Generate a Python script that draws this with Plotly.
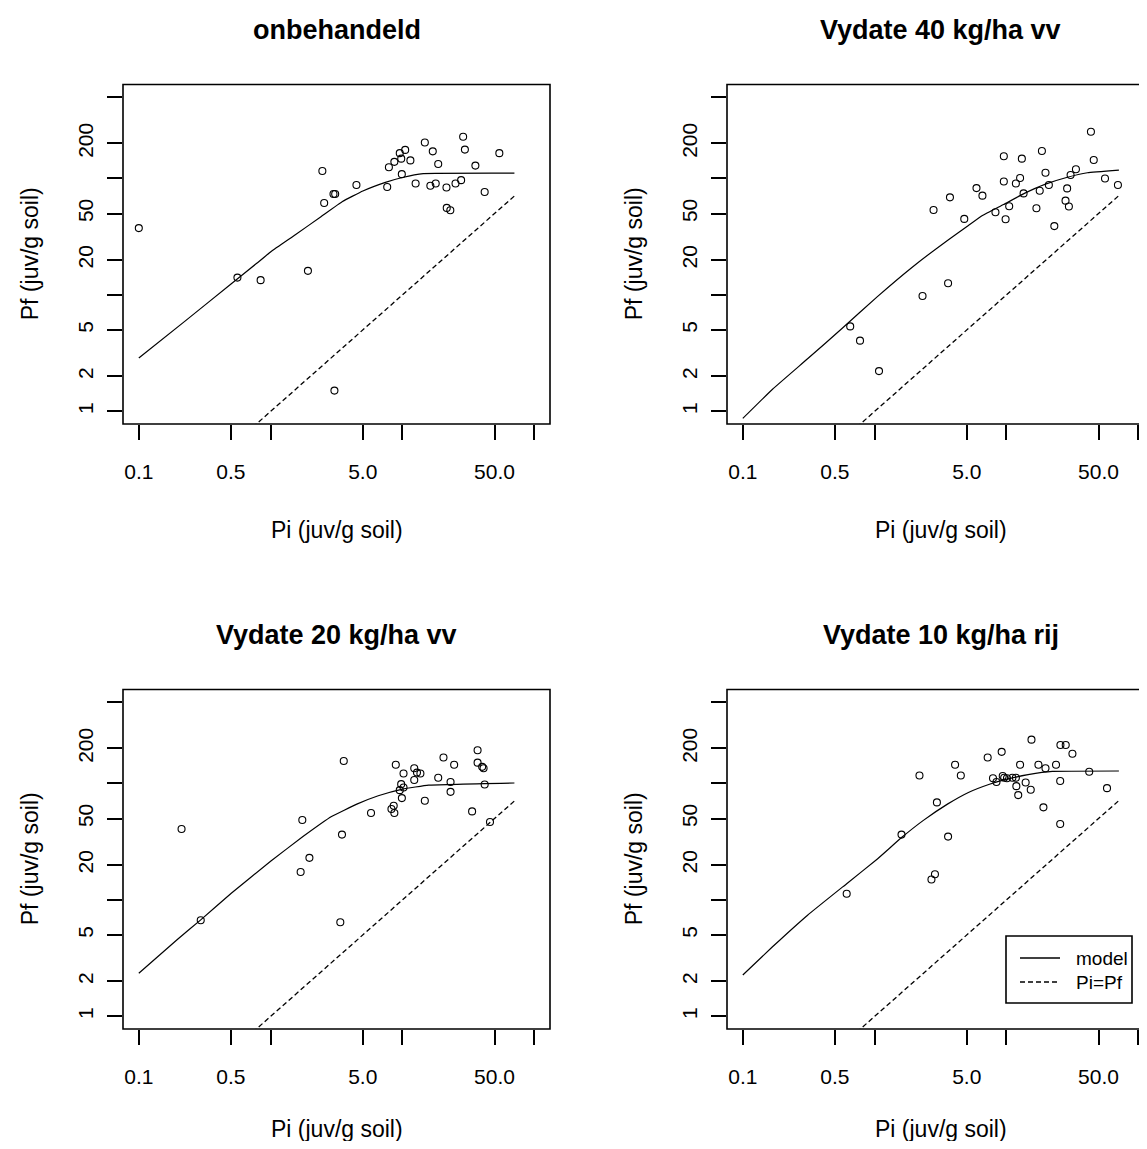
import plotly.graph_objects as go

# ---------------- data ----------------
titles = ["onbehandeld", "Vydate 40 kg/ha vv", "Vydate 20 kg/ha vv", "Vydate 10 kg/ha rij"]
x_title = "Pi (juv/g soil)"
y_title = "Pf (juv/g soil)"
x_tickvals = [0.1, 0.5, 1, 5, 10, 50, 100]
x_ticktext = ["0.1", "0.5", "", "5.0", "", "50.0", ""]
y_tickvals = [1, 2, 5, 10, 20, 50, 100, 200, 500]
y_ticktext = ["1", "2", "5", "", "20", "50", "", "200", ""]
legend_labels = ["model", "Pi=Pf"]

# panel 1: onbehandeld
obs_pi_1 = [0.1, 0.56, 0.84, 1.92, 2.47, 2.55, 3.0, 3.09, 3.05, 4.48, 7.67, 7.9, 8.69, 9.55, 9.8, 9.9,
            10.5, 11.5, 12.6, 14.8, 16.3, 17.0, 17.9, 18.7, 21.6, 21.7, 23.1, 25.3, 27.9, 28.9, 29.8,
            35.8, 42.1, 54.4]
obs_pf_1 = [37.5, 14.1, 13.4, 16.1, 116, 61.6, 73.5, 73.5, 1.51, 87.8, 84.4, 125, 139, 165, 148, 109,
            176, 143, 90.7, 204, 86.6, 171, 90.7, 133, 83.8, 55.9, 53.4, 90.7, 96.8, 228, 177,
            129, 76.5, 165]
model_pi_1 = [0.1, 0.223, 0.509, 0.78, 1.01, 1.55, 2.41, 3.51, 5.01, 7.43, 10.0, 14.4, 70.8]
model_pf_1 = [2.88, 5.93, 12.6, 18.6, 23.6, 33.0, 47.0, 63.5, 78.0, 92.5, 102, 110, 111]

# panel 2: Vydate 40 kg/ha vv
obs_pi_2 = [0.653, 0.775, 1.08, 2.31, 2.80, 3.61, 3.73, 4.79, 5.93, 6.58, 8.26, 9.56, 9.56, 9.86, 10.5,
            11.8, 12.7, 13.1, 13.5, 16.9, 17.9, 18.6, 19.8, 21.0, 23.1, 28.1, 28.9, 29.8, 30.7, 33.7,
            43.8, 46.0, 56.0, 70.2]
obs_pf_2 = [5.37, 4.05, 2.22, 9.8, 53.7, 12.6, 68.9, 45.0, 82.7, 71.2, 51.3, 155, 94.3, 44.7, 57.7,
            90.7, 101, 148, 74.5, 55.5, 78.5, 172, 112, 87.8, 39.0, 64.5, 82.2, 57.4, 107, 120,
            252, 144, 100, 87.8]
model_pi_2 = [0.1, 0.168, 0.31, 0.571, 1.05, 1.94, 3.57, 5.15, 6.58, 9.51, 13.7, 19.8, 28.6, 41.2, 71.4]
model_pf_2 = [0.871, 1.55, 2.83, 5.20, 9.68, 17.4, 29.4, 39.5, 48.1, 59.7, 74.5, 89.5, 102, 112, 118]

# panel 3: Vydate 20 kg/ha vv
obs_pi_3 = [0.211, 0.295, 1.69, 1.74, 1.97, 3.38, 3.48, 3.59, 5.78, 8.26, 8.59, 8.69, 8.91, 9.55, 9.79,
            9.91, 10.2, 10.2, 12.3, 12.3, 12.9, 13.7, 14.8, 18.7, 20.5, 23.2, 23.2, 24.7, 33.8, 37.2,
            37.2, 40.3, 41.3, 42.1, 46.2]
obs_pf_3 = [40.7, 6.70, 17.4, 48.6, 23.0, 6.44, 36.4, 156, 55.8, 60.3, 64.4, 55.8, 145, 87.7, 98.7,
            74.9, 122, 92.4, 135, 107, 124, 122, 71.1, 112, 167, 103, 84.8, 145, 57.6, 193,
            151, 139, 135, 98.0, 46.7]
model_pi_3 = [0.1, 0.197, 0.295, 0.503, 1.0, 1.76, 2.90, 4.51, 6.56, 10.05, 15.8, 70.8]
model_pf_3 = [2.35, 4.6, 6.75, 11.4, 21.5, 35.0, 52.0, 66.5, 78.5, 89.5, 96.8, 101]

# panel 4: Vydate 10 kg/ha rij
obs_pi_4 = [0.614, 1.60, 2.19, 2.70, 2.87, 2.97, 3.61, 4.08, 4.51, 7.21, 7.91, 8.41, 9.21, 9.38, 9.62,
            10.1, 11.1, 11.8, 11.9, 12.3, 12.7, 14.0, 15.3, 15.5, 17.5, 19.1, 19.8, 23.8, 25.6, 25.6,
            25.7, 28.2, 31.7, 42.5, 58.0]
obs_pf_4 = [11.3, 36.4, 117, 15.0, 16.6, 68.8, 35.0, 145, 117, 167, 111, 103, 187, 116, 112,
            111, 112, 112, 94.9, 79.5, 145, 102, 88.3, 238, 145, 62.4, 135, 145, 105, 44.9,
            214, 214, 180, 126, 91.2]
model_pi_4 = [0.1, 0.168, 0.31, 0.614, 1.05, 1.61, 2.33, 3.57, 5.15, 7.44, 10.1, 14.6, 22.3, 71.4]
model_pf_4 = [2.27, 3.96, 7.40, 13.8, 22.5, 34.5, 48.0, 66.5, 83.8, 98.6, 109, 119, 127, 128]

# Pi = Pf reference line end points
pipf_line = [0.1, 71.0]

# ---------------- layout geometry ----------------
W, H = 1131, 1133          # figure size (page has an 8px body margin)
OFF = 8
PAGE_R = OFF + W
X_RANGE = [-1.12, 2.12]
Y_RANGE = [-0.108, 2.807]
BOX_W = 427.0
DEC_X = BOX_W / (X_RANGE[1] - X_RANGE[0])

# page-pixel boxes: left, right, top, bottom
boxes = [(123, 550, 84.5, 424), (727, 1154, 84.5, 424),
         (123, 550, 689.5, 1029), (727, 1154, 689.5, 1029)]


def px(xp):
    return (xp - OFF) / W


def py(yp):
    return 1 - (yp - OFF) / H


FONT = "Liberation Sans, Arial, sans-serif"
TICKFONT = dict(family=FONT, size=21, color="#000")

panels = [
    (obs_pi_1, obs_pf_1, model_pi_1, model_pf_1),
    (obs_pi_2, obs_pf_2, model_pi_2, model_pf_2),
    (obs_pi_3, obs_pf_3, model_pi_3, model_pf_3),
    (obs_pi_4, obs_pf_4, model_pi_4, model_pf_4),
]

fig = go.Figure()
layout = dict(
    width=W, height=H,
    margin=dict(l=0, r=0, t=0, b=0),
    paper_bgcolor="white", plot_bgcolor="white",
    showlegend=False,
)
shapes = []
annotations = []

for i, ((opi, opf, mpi, mpf), box, title) in enumerate(zip(panels, boxes, titles), start=1):
    sfx = "" if i == 1 else str(i)
    xa, ya = "x" + sfx, "y" + sfx
    left, right, top, bottom = box
    vis_right = min(right, PAGE_R)
    xr1 = X_RANGE[0] + (vis_right - left) / DEC_X

    fig.add_trace(go.Scatter(x=mpi, y=mpf, mode="lines", xaxis=xa, yaxis=ya,
                             line=dict(color="black", width=1.2, shape="spline", smoothing=0.3),
                             hoverinfo="skip"))
    fig.add_trace(go.Scatter(x=pipf_line, y=pipf_line, mode="lines", xaxis=xa, yaxis=ya,
                             line=dict(color="black", width=1.3, dash="5px,3px"), hoverinfo="skip"))
    fig.add_trace(go.Scatter(x=opi, y=opf, mode="markers", xaxis=xa, yaxis=ya,
                             marker=dict(symbol="circle-open", size=7, color="black",
                                         line=dict(width=1.1))))

    layout["xaxis" + sfx] = dict(
        domain=[px(left), px(vis_right)], anchor=ya, type="log", range=[X_RANGE[0], xr1],
        tickmode="array", tickvals=x_tickvals, ticktext=x_ticktext,
        ticks="outside", ticklen=15, tickwidth=1.5, tickcolor="black",
        showgrid=False, zeroline=False, showline=False,
        tickfont=TICKFONT, ticklabelstandoff=14,
    )
    layout["yaxis" + sfx] = dict(
        domain=[py(bottom), py(top)], anchor=xa, type="log", range=Y_RANGE,
        tickmode="array", tickvals=y_tickvals, ticktext=y_ticktext,
        ticks="outside", ticklen=15, tickwidth=1.5, tickcolor="black",
        showgrid=False, zeroline=False, showline=False, tickangle=-90,
        tickfont=TICKFONT, ticklabelstandoff=6,
    )
    # plot frame
    shapes.append(dict(type="rect", xref=xa + " domain", yref=ya + " domain",
                       x0=0, x1=1 if right <= PAGE_R else 1.05, y0=0, y1=1,
                       line=dict(color="black", width=1.6)))
    cx = (left + right) / 2
    cy = (top + bottom) / 2
    annotations.append(dict(text="<b>%s</b>" % title, x=px(cx), y=py(top - 55), xref="paper", yref="paper",
                            showarrow=False, xanchor="center", yanchor="middle",
                            font=dict(family=FONT, size=27, color="#000")))
    annotations.append(dict(text=x_title, x=px(cx), y=py(bottom + (106 if i <= 2 else 100)),
                            xref="paper", yref="paper",
                            showarrow=False, xanchor="center", yanchor="middle",
                            font=dict(family=FONT, size=23, color="#000")))
    annotations.append(dict(text=y_title, x=px(left - 93), y=py(cy), xref="paper", yref="paper",
                            showarrow=False, xanchor="center", yanchor="middle", textangle=-90,
                            font=dict(family=FONT, size=23, color="#000")))

# legend in last panel (drawn manually)
lg_l, lg_r, lg_t, lg_b = 1006, 1132, 936, 1003
shapes.append(dict(type="rect", xref="paper", yref="paper", x0=px(lg_l), x1=px(lg_r),
                   y0=py(lg_b), y1=py(lg_t), line=dict(color="black", width=1.6),
                   fillcolor="white", layer="above"))
for k, (lab, dash) in enumerate(zip(legend_labels, ["solid", "5px,3px"])):
    yy = 958 + k * 24
    shapes.append(dict(type="line", xref="paper", yref="paper", x0=px(1020), x1=px(1060),
                       y0=py(yy), y1=py(yy), line=dict(color="black", width=1.3, dash=dash)))
    annotations.append(dict(text=lab, x=px(1074), y=py(yy), xref="paper", yref="paper",
                            showarrow=False, xanchor="left", yanchor="middle",
                            font=dict(family=FONT, size=19, color="#000")))

layout["shapes"] = shapes
layout["annotations"] = annotations
fig.update_layout(**layout)
fig.write_html("out.html")
